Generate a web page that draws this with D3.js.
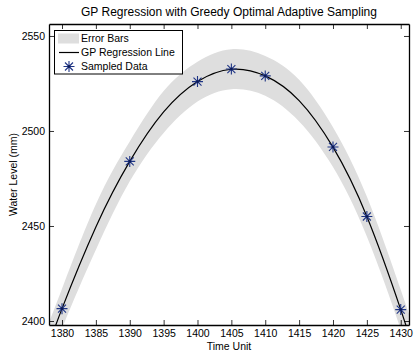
<!DOCTYPE html>
<html>
<head>
<meta charset="utf-8">
<script src="https://cdn.jsdelivr.net/npm/d3@7"></script>
<style>
  body { margin: 0; background: #fff; }
  svg { display: block; font-family: "Liberation Sans", Arial, sans-serif; }
</style>
</head>
<body>
<svg id="chart" width="416" height="354"></svg>
<script>
// sampled observations
const sampleX = [1380, 1390, 1400, 1405, 1410, 1420, 1425, 1430];
const sampleY = [2406.5, 2484, 2526, 2532.6, 2529, 2491.6, 2455, 2406];

// GP regression mean and error half-width
const fitX = [1377.5, 1380, 1385, 1390, 1395, 1400, 1405, 1410, 1415, 1420, 1425, 1430, 1432.5];
const fitY = [2382, 2406.5, 2449.5, 2484, 2510, 2526, 2532.5, 2529, 2516, 2491.5, 2455, 2406, 2378];
const fitErr = [12, 10.5, 12, 10.5, 11, 10.5, 10.5, 10.5, 11, 10.5, 10.5, 10.5, 12];

const xTicks = [1380, 1385, 1390, 1395, 1400, 1405, 1410, 1415, 1420, 1425, 1430];
const yTicks = [2400, 2450, 2500, 2550];

const fit = fitX.map((x, i) => ({ x: x, y: fitY[i], e: fitErr[i] }));
const samples = sampleX.map((x, i) => ({ x: x, y: sampleY[i] }));

const svg = d3.select('#chart');
const box = { left: 49, right: 409, top: 24, bottom: 325 };

const x = d3.scaleLinear().domain([1378.08, 1431.22]).range([box.left, box.right]);
const y = d3.scaleLinear().domain([2397.9, 2556.3]).range([box.bottom, box.top]);

svg.append('defs').append('clipPath').attr('id', 'clip')
    .append('rect')
    .attr('x', box.left).attr('y', box.top)
    .attr('width', box.right - box.left).attr('height', box.bottom - box.top);

const plot = svg.append('g').attr('clip-path', 'url(#clip)');

// error band
const band = d3.area()
    .x(d => x(d.x))
    .y0(d => y(d.y - d.e))
    .y1(d => y(d.y + d.e))
    .curve(d3.curveNatural);

plot.append('path')
    .datum(fit)
    .attr('d', band)
    .attr('fill', '#dedede');

// regression line
const line = d3.line()
    .x(d => x(d.x))
    .y(d => y(d.y))
    .curve(d3.curveNatural);

plot.append('path')
    .datum(fit)
    .attr('d', line)
    .attr('fill', 'none')
    .attr('stroke', '#000')
    .attr('stroke-width', 1.2);

// star markers
const starPath = 'M-5.5,0H5.5M0,-5.5V5.5M-4,-4L4,4M-4,4L4,-4';
const markerColor = '#1f3585';

function drawStar(g) {
    g.append('path')
        .attr('d', starPath)
        .attr('stroke', markerColor)
        .attr('stroke-width', 1.1)
        .attr('fill', 'none');
    g.append('circle')
        .attr('r', 1.3)
        .attr('fill', '#0c1a55');
}

svg.selectAll('.star')
    .data(samples)
    .enter()
    .append('g')
    .attr('class', 'star')
    .attr('transform', d => `translate(${x(d.x)},${y(d.y)})`)
    .each(function () { drawStar(d3.select(this)); });

// axes (MATLAB style: ticks inside, box all round)
const fmt = d3.format('d');
const axisX = d3.axisBottom(x).tickValues(xTicks).tickFormat(fmt).tickSizeInner(-5).tickSizeOuter(0).tickPadding(5);
const axisY = d3.axisLeft(y).tickValues(yTicks).tickFormat(fmt).tickSizeInner(-5).tickSizeOuter(0).tickPadding(4);

const gx = svg.append('g').attr('transform', `translate(0,${box.bottom})`).call(axisX);
const gy = svg.append('g').attr('transform', `translate(${box.left},0)`).call(axisY);

svg.append('g').attr('transform', `translate(0,${box.top})`)
    .call(d3.axisTop(x).tickValues(xTicks).tickSizeInner(-5).tickSizeOuter(0).tickFormat(''));
svg.append('g').attr('transform', `translate(${box.right},0)`)
    .call(d3.axisRight(y).tickValues(yTicks).tickSizeInner(-5).tickSizeOuter(0).tickFormat(''));

svg.selectAll('.domain').attr('stroke', '#000').attr('stroke-width', 1.3);
svg.selectAll('.tick line').attr('stroke', '#000').attr('stroke-width', 0.8);
svg.selectAll('.tick text')
    .attr('fill', '#000')
    .style('font-size', '10.5px')
    .style('font-family', '"Liberation Sans", Arial, sans-serif');

// title and labels
svg.append('text')
    .attr('x', (box.left + box.right) / 2)
    .attr('y', 16)
    .attr('text-anchor', 'middle')
    .style('font-size', '12px')
    .text('GP Regression with Greedy Optimal Adaptive Sampling');

svg.append('text')
    .attr('x', (box.left + box.right) / 2)
    .attr('y', 350)
    .attr('text-anchor', 'middle')
    .style('font-size', '10.5px')
    .text('Time Unit');

svg.append('text')
    .attr('transform', 'rotate(-90)')
    .attr('x', -(box.top + box.bottom) / 2)
    .attr('y', 17)
    .attr('text-anchor', 'middle')
    .style('font-size', '10.5px')
    .text('Water Level (mm)');

// legend
const legend = svg.append('g');
legend.append('rect')
    .attr('x', 54.5).attr('y', 30.5)
    .attr('width', 128).attr('height', 43.5)
    .attr('fill', '#fff')
    .attr('stroke', '#000')
    .attr('stroke-width', 1);

legend.append('rect')
    .attr('x', 58).attr('y', 33.5)
    .attr('width', 21).attr('height', 10)
    .attr('fill', '#dedede');
legend.append('line')
    .attr('x1', 59).attr('x2', 79)
    .attr('y1', 52.5).attr('y2', 52.5)
    .attr('stroke', '#000')
    .attr('stroke-width', 1.2);
drawStar(legend.append('g').attr('transform', 'translate(69,66.5)'));

const legendLabels = ['Error Bars', 'GP Regression Line', 'Sampled Data'];
legend.selectAll('.lbl')
    .data(legendLabels)
    .enter()
    .append('text')
    .attr('x', 81)
    .attr('y', (d, i) => 42 + i * 14)
    .style('font-size', '10.5px')
    .text(d => d);
</script>
</body>
</html>
